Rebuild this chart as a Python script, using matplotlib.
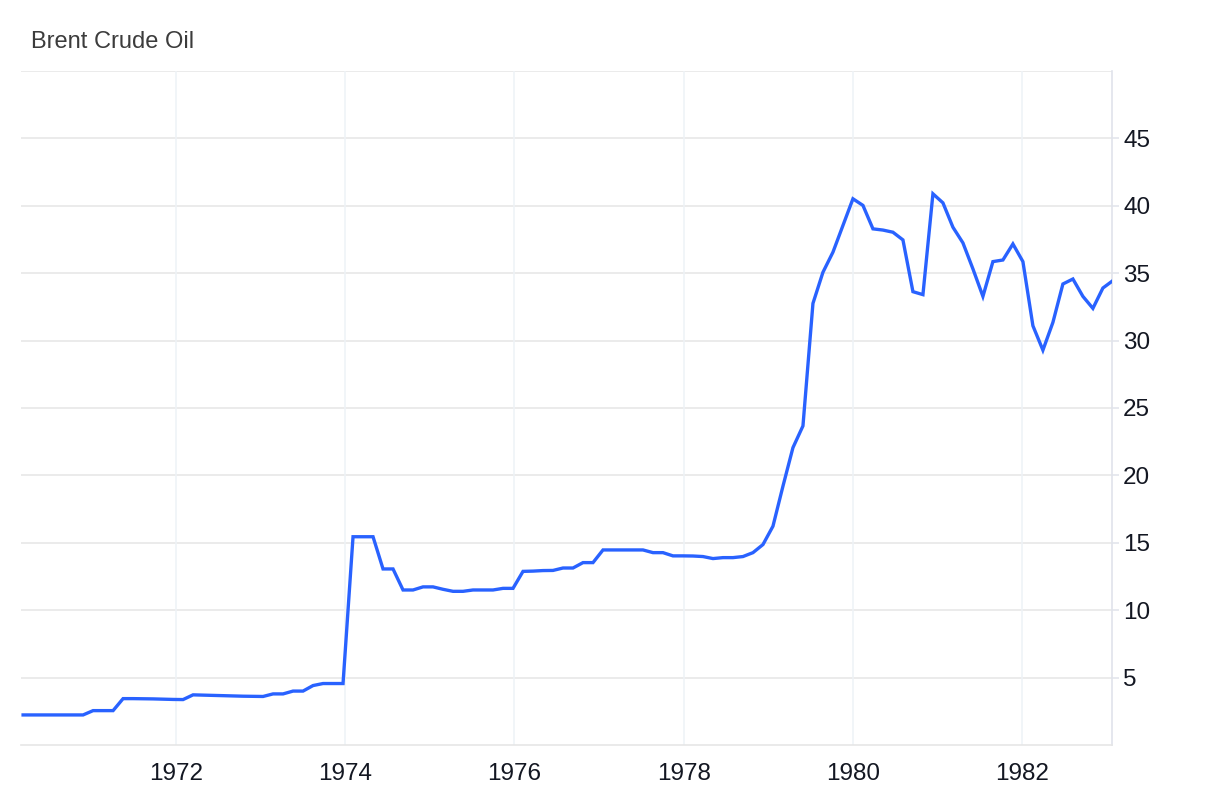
#!/usr/bin/env python3
# Brent Crude Oil, 1970-1983 (price in USD per barrel)
import numpy as np
import matplotlib
matplotlib.use("Agg")
import matplotlib.pyplot as plt

# ---------- Data ----------
# one observation roughly every 43 days, index 83 falls on 1980.0
step_years = 0.1181
anchor_index = 83
anchor_year = 1980.0

prices = [
    2.23, 2.23, 2.23, 2.23, 2.23, 2.23, 2.23, 2.55, 2.55, 2.55,   # 1970
    3.44, 3.44, 3.43, 3.42, 3.40, 3.38, 3.37, 3.72, 3.70, 3.68,   # 1971-72
    3.66, 3.64, 3.62, 3.61, 3.60, 3.79, 3.79, 4.00, 4.00, 4.41,   # 1972-73
    4.56, 4.56, 4.56, 15.45, 15.45, 15.45, 13.06, 13.06, 11.50, 11.50,  # 1974
    11.73, 11.73, 11.55, 11.40, 11.40, 11.50, 11.50, 11.50, 11.62, 11.62,  # 1975
    12.88, 12.90, 12.94, 12.95, 13.13, 13.13, 13.53, 13.53, 14.47, 14.47,  # 1976
    14.47, 14.47, 14.47, 14.27, 14.27, 14.03, 14.03, 14.02, 13.98, 13.83,  # 1977-78
    13.90, 13.90, 13.98, 14.27, 14.87, 16.23, 19.20, 22.06, 23.67, 32.76,  # 1978-79
    35.07, 36.56, 38.54, 40.52, 40.03, 38.29, 38.20, 38.04, 37.47, 33.63,  # 1979-80
    33.41, 40.89, 40.22, 38.41, 37.25, 35.32, 33.28, 35.86, 35.98, 37.17,  # 1980-81
    35.86, 31.10, 29.29, 31.35, 34.20, 34.57, 33.28, 32.39, 33.90, 34.45,  # 1982
]

years = anchor_year + (np.arange(len(prices)) - anchor_index) * step_years

year_ticks = [1972, 1974, 1976, 1978, 1980, 1982]
price_ticks = [5, 10, 15, 20, 25, 30, 35, 40, 45]

# ---------- Style ----------
plt.rcParams["font.family"] = ["Liberation Sans", "DejaVu Sans"]
LINE_COLOR = "#2962ff"
GRID_H = "#e6e6e6"
GRID_V = "#eef2f6"
AXIS_COLOR = "#e0e3eb"

fig = plt.figure(figsize=(12.19, 8.0), dpi=100)
W, H = 1219, 800
left, right, top, bottom = 21, 1112, 71, 745
ax = fig.add_axes([left / W, 1 - bottom / H, (right - left) / W, (bottom - top) / H])

ax.plot(years, prices, color=LINE_COLOR, lw=2.4, solid_joinstyle="miter", zorder=3)

ax.set_xlim(1970.173, 1983.06)
ax.set_ylim(0, 50)

# horizontal grid (incl. the top line at 50)
for v in price_ticks + [50]:
    ax.axhline(v, color=GRID_H, lw=1.1, zorder=1)
for yr in year_ticks:
    ax.axvline(yr, color=GRID_V, lw=1.1, zorder=1)

for side in ("top", "left"):
    ax.spines[side].set_visible(False)
ax.spines["right"].set_color(AXIS_COLOR)
ax.spines["right"].set_linewidth(1.2)
ax.spines["bottom"].set_color(GRID_H)
ax.spines["bottom"].set_linewidth(1.2)

ax.yaxis.tick_right()
ax.set_yticks(price_ticks)
ax.set_yticklabels([str(v) for v in price_ticks])
ax.tick_params(axis="y", length=5, width=1.1, color=AXIS_COLOR,
               labelsize=17.5, labelcolor="#131722", pad=3)

ax.set_xticks(year_ticks)
ax.set_xticklabels([str(y) for y in year_ticks])
ax.tick_params(axis="x", length=0, labelsize=17.5, labelcolor="#131722", pad=13)

fig.text(31 / W, 1 - 48 / H, "Brent Crude Oil", fontsize=17, color="#3c3c3c",
         ha="left", va="baseline")

fig.savefig("out.png", dpi=100, facecolor="white")
